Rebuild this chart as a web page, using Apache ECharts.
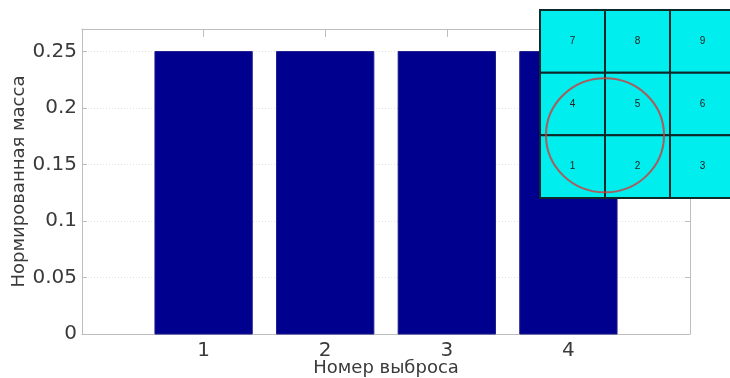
<!DOCTYPE html>
<html><head><meta charset="utf-8">
<script src="https://cdn.jsdelivr.net/npm/echarts@6/dist/echarts.min.js"></script>
<style>html,body{margin:0;padding:0;background:#fff}#c{width:730px;height:378px}</style>
</head><body><div id="c"></div>
<script>
const categories = [1, 2, 3, 4];
const massValues = [0.25, 0.25, 0.25, 0.25];
const yTickLabels = ['0', '0.05', '0.1', '0.15', '0.2', '0.25'];
const xName = 'Номер выброса';
const yName = 'Нормированная масса';
// inset 3x3 grid, rows listed top to bottom
const insetRows = [['7', '8', '9'], ['4', '5', '6'], ['1', '2', '3']];
const circleCenter = [1, 1];

const barData = categories.map((c, i) => [c, massValues[i]]);
const cellData = [];
insetRows.forEach((row, r) => row.forEach((lab, c) => cellData.push([c, 2 - r, lab])));

const font = 'DejaVu Sans, sans-serif';
const axisGrey = '#bdbdbd';
const chart = echarts.init(document.getElementById('c'));
chart.setOption({
  animation: false,
  backgroundColor: '#fff',
  grid: [
    {left: 82, top: 29, right: 40, bottom: 44, outerBoundsMode: 'none', containLabel: false},
    {left: 540, top: 10, right: -5, bottom: 180, outerBoundsMode: 'none', containLabel: false}
  ],
  xAxis: [
    {gridIndex: 0, type: 'value', min: 0, max: 5, interval: 1,
     name: xName, nameLocation: 'middle', nameGap: 25, nameMoveOverlap: false,
     nameTextStyle: {fontFamily: font, fontSize: 18, color: '#3a3a3a'},
     axisLine: {show: true, onZero: false, lineStyle: {color: axisGrey}},
     axisTick: {show: true, inside: true, length: 5, lineStyle: {color: axisGrey}},
     axisLabel: {fontFamily: font, fontSize: 20, color: '#3a3a3a', margin: 7,
       formatter: v => categories.includes(v) ? String(v) : ''},
     splitLine: {show: false}},
    {gridIndex: 0, type: 'value', position: 'top', min: 0, max: 5, interval: 1,
     axisLine: {show: true, onZero: false, lineStyle: {color: axisGrey}},
     axisTick: {show: true, inside: true, length: 8, lineStyle: {color: axisGrey}},
     axisLabel: {show: false}, splitLine: {show: false}},
    {gridIndex: 1, type: 'value', min: 0, max: 3, show: false}
  ],
  yAxis: [
    {gridIndex: 0, type: 'value', min: 0, max: 0.27, interval: 0.05,
     name: yName, nameLocation: 'middle', nameGap: 54, nameRotate: 90, nameMoveOverlap: false,
     nameTextStyle: {fontFamily: font, fontSize: 18, color: '#3a3a3a'},
     axisLine: {show: true, onZero: false, lineStyle: {color: axisGrey}},
     axisTick: {show: true, inside: true, length: 5, lineStyle: {color: axisGrey}},
     axisLabel: {fontFamily: font, fontSize: 20, color: '#3a3a3a', margin: 5, showMaxLabel: false,
       formatter: v => { const i = Math.round(v / 0.05); return Math.abs(v - i * 0.05) < 1e-9 ? yTickLabels[i] : ''; }},
     splitLine: {show: true, lineStyle: {color: '#e2e2e2', type: [1, 2]}}},
    {gridIndex: 0, type: 'value', position: 'right', min: 0, max: 0.27, interval: 0.05,
     axisLine: {show: true, onZero: false, lineStyle: {color: axisGrey}},
     axisTick: {show: true, inside: true, length: 5, lineStyle: {color: axisGrey}},
     axisLabel: {show: false}, splitLine: {show: false}},
    {gridIndex: 1, type: 'value', min: 0, max: 3, show: false}
  ],
  series: [
    {type: 'custom', xAxisIndex: 0, yAxisIndex: 0, data: barData, z: 2,
     renderItem: (params, api) => {
       const x = api.value(0), y = api.value(1);
       const a = api.coord([x - 0.4, y]), b = api.coord([x + 0.4, 0]);
       return {type: 'rect', shape: {x: a[0], y: a[1], width: b[0] - a[0], height: b[1] - a[1]},
         style: {fill: '#00008f', stroke: '#1a1a8a', lineWidth: 1}};
     }},
    {type: 'custom', xAxisIndex: 2, yAxisIndex: 2, data: cellData, z: 10,
     renderItem: (params, api) => {
       const x = api.value(0), y = api.value(1);
       const a = api.coord([x, y + 1]), b = api.coord([x + 1, y]);
       return {type: 'group', children: [
         {type: 'rect', shape: {x: a[0], y: a[1], width: b[0] - a[0], height: b[1] - a[1]},
          style: {fill: '#00eeee', stroke: '#0d2a2a', lineWidth: 2}},
         {type: 'text', style: {text: String(api.value(2)), x: (a[0] + b[0]) / 2, y: (a[1] + b[1]) / 2,
          align: 'center', verticalAlign: 'middle', fill: '#222', font: '10px Liberation Sans, Arial, sans-serif'}}
       ]};
     }},
    {type: 'scatter', xAxisIndex: 2, yAxisIndex: 2, z: 11, data: [circleCenter],
     symbol: 'circle', symbolSize: [118, 114],
     itemStyle: {color: 'rgba(0,0,0,0)', borderColor: '#d03a3a', borderWidth: 2},
     emphasis: {disabled: true}, silent: true}
  ]
});
</script>
</body></html>
